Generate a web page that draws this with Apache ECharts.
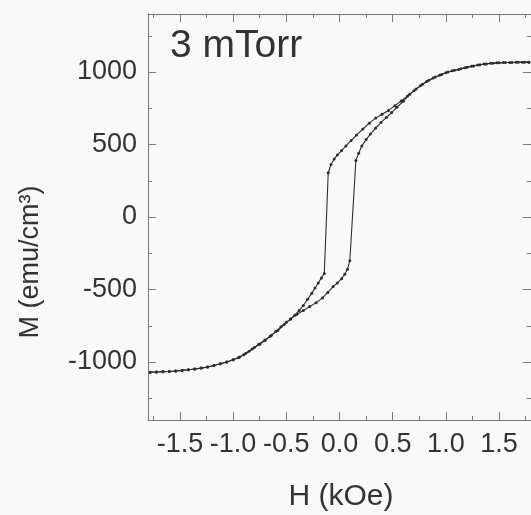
<!DOCTYPE html>
<html>
<head>
<meta charset="utf-8">
<script src="https://cdn.jsdelivr.net/npm/echarts@6/dist/echarts.min.js"></script>
<style>
html,body{margin:0;padding:0;background:#fbf9f7;}
#chart{width:531px;height:515px;}
</style>
</head>
<body>
<div id="chart"></div>
<script>
// Descending branch (from +H saturation to -H saturation)
var descH = [1.78,1.72,1.66,1.60,1.54,1.48,1.42,1.36,1.30,1.24,1.18,1.12,1.06,1.00,0.94,0.88,0.82,0.76,0.70,0.64,0.58,0.52,0.46,0.40,0.34,0.28,0.22,0.16,0.11,0.06,0.02,-0.02,-0.05,-0.08,-0.106,-0.143,-0.17,-0.20,-0.23,-0.26,-0.30,-0.34,-0.38,-0.42,-0.46,-0.50,-0.55,-0.60,-0.65,-0.70,-0.75,-0.80,-0.85,-0.90,-0.95,-1.00,-1.06,-1.12,-1.18,-1.24,-1.30,-1.36,-1.42,-1.48,-1.54,-1.60,-1.66,-1.72,-1.78];
var descM = [1068,1068,1067,1066,1065,1063,1060,1055,1048,1040,1030,1018,1008,995,978,958,935,905,870,835,800,768,735,708,682,647,607,565,528,490,458,428,400,362,305,-390,-420,-455,-490,-525,-568,-610,-645,-677,-703,-725,-757,-790,-822,-852,-878,-900,-925,-950,-970,-985,-1000,-1012,-1024,-1034,-1042,-1048,-1053,-1058,-1062,-1065,-1067,-1069,-1070];
// Ascending branch (from -H saturation to +H saturation)
var ascH = [-1.78,-1.72,-1.66,-1.60,-1.54,-1.48,-1.42,-1.36,-1.30,-1.24,-1.18,-1.12,-1.06,-1.00,-0.94,-0.88,-0.82,-0.76,-0.70,-0.64,-0.58,-0.52,-0.46,-0.40,-0.34,-0.28,-0.22,-0.16,-0.11,-0.06,-0.02,0.02,0.05,0.075,0.097,0.154,0.18,0.21,0.25,0.29,0.34,0.39,0.44,0.49,0.54,0.60,0.66,0.72,0.78,0.84,0.90,0.96,1.02,1.08,1.14,1.20,1.26,1.32,1.38,1.44,1.50,1.56,1.62,1.68,1.74,1.78];
var ascM = [-1070,-1069,-1067,-1065,-1062,-1058,-1053,-1048,-1042,-1034,-1024,-1012,-1000,-985,-965,-940,-910,-878,-848,-815,-783,-742,-704,-670,-645,-618,-592,-558,-520,-480,-455,-425,-395,-360,-302,390,440,490,534,572,613,652,686,720,757,798,847,882,915,943,965,983,1000,1012,1022,1033,1042,1050,1056,1060,1063,1065,1066,1067,1068,1068];

var xTicks = [-1.5,-1.0,-0.5,0.0,0.5,1.0,1.5];
var xTickLabels = ['-1.5','-1.0','-0.5','0.0','0.5','1.0','1.5'];
var xMinorTicks = [-1.75,-1.25,-0.75,-0.25,0.25,0.75,1.25,1.75];
var yTicks = [-1000,-500,0,500,1000];
var yTickLabels = ['-1000','-500','0','500','1000'];
var yMinorTicks = [-1250,-750,-250,250,750,1250];
var sampleLabel = '3 mTorr';
var xTitle = 'H (kOe)';
var yTitle = 'M (emu/cm³)';

function pairs(a, b) { return a.map(function (v, i) { return [v, b[i]]; }); }

var FONT = '"Liberation Sans", Arial, sans-serif';
var TXT = '#333';
var AX = '#7a7a7a';

function xAx(pos, vals, len, showLine, labels) {
  return {
    type: 'value', position: pos, min: -1.8, max: 1.8,
    axisLine: { show: showLine, onZero: false, lineStyle: { color: AX, width: 1 } },
    axisTick: { show: true, inside: true, length: len, customValues: vals, lineStyle: { color: AX, width: 1 } },
    axisLabel: labels ? {
      show: true, customValues: vals, margin: 11, color: TXT, fontSize: 27, fontFamily: FONT,
      formatter: function (v) { var i = xTicks.indexOf(v); return i >= 0 ? xTickLabels[i] : ''; }
    } : { show: false },
    splitLine: { show: false }
  };
}
function yAx(pos, vals, len, showLine, labels) {
  return {
    type: 'value', position: pos, min: -1400, max: 1400,
    axisLine: { show: showLine, onZero: false, lineStyle: { color: AX, width: 1 } },
    axisTick: { show: true, inside: true, length: len, customValues: vals, lineStyle: { color: AX, width: 1 } },
    axisLabel: labels ? {
      show: true, customValues: vals, margin: 11, color: TXT, fontSize: 27, fontFamily: FONT,
      formatter: function (v) { var i = yTicks.indexOf(v); return i >= 0 ? yTickLabels[i] : ''; }
    } : { show: false },
    splitLine: { show: false }
  };
}

var chart = echarts.init(document.getElementById('chart'), null, { renderer: 'canvas' });
chart.setOption({
  animation: false,
  backgroundColor: '#fbf9f7',
  grid: { left: 148, top: 14, width: 384, height: 406, containLabel: false },
  xAxis: [
    xAx('bottom', xTicks, 8, true, true),
    xAx('bottom', xMinorTicks, 4, false, false),
    xAx('top', xTicks, 8, true, false),
    xAx('top', xMinorTicks, 4, false, false)
  ],
  yAxis: [
    yAx('left', yTicks, 8, true, true),
    yAx('left', yMinorTicks, 4, false, false),
    yAx('right', yTicks, 8, true, false),
    yAx('right', yMinorTicks, 4, false, false)
  ],
  series: [
    {
      type: 'line', xAxisIndex: 0, yAxisIndex: 0, data: pairs(descH, descM),
      symbol: 'circle', symbolSize: 3, showAllSymbol: true,
      lineStyle: { color: '#2e2e2e', width: 1.1 }, itemStyle: { color: '#2e2e2e' }
    },
    {
      type: 'line', xAxisIndex: 0, yAxisIndex: 0, data: pairs(ascH, ascM),
      symbol: 'circle', symbolSize: 3, showAllSymbol: true,
      lineStyle: { color: '#2e2e2e', width: 1.1 }, itemStyle: { color: '#2e2e2e' }
    }
  ],
  graphic: [
    { type: 'text', x: 170, y: 46, style: { text: sampleLabel, fill: TXT, fontSize: 39, fontFamily: FONT, align: 'left', verticalAlign: 'middle' } },
    { type: 'text', x: 341, y: 497, style: { text: xTitle, fill: TXT, fontSize: 30, fontFamily: FONT, align: 'center', verticalAlign: 'middle' } },
    { type: 'text', x: 31, y: 262, rotation: Math.PI / 2, style: { text: yTitle, fill: TXT, fontSize: 27, fontFamily: FONT, align: 'center', verticalAlign: 'middle' } }
  ]
});
</script>
</body>
</html>
